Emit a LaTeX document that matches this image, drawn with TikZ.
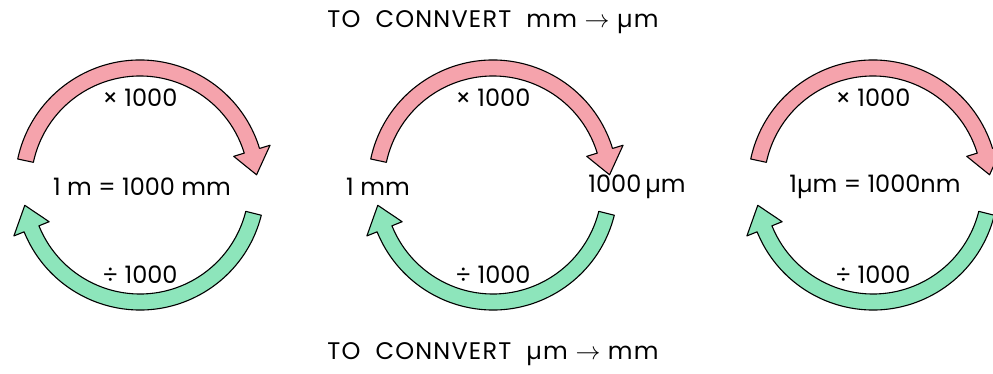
\documentclass[tikz,border=0pt]{standalone}
\usepackage{fontspec}
\setmainfont{Poppins}
\definecolor{pinkfill}{RGB}{245,163,172}
\definecolor{greenfill}{RGB}{141,229,187}
\begin{document}
\begin{tikzpicture}[x=1pt,y=1pt,
  pinkarrow/.style={draw=black,line width=1.1pt,fill=pinkfill,line join=round},
  greenarrow/.style={draw=black,line width=1.1pt,fill=greenfill,line join=round},
  lbl/.style={font=\fontsize{24}{28}\selectfont,inner sep=0pt},
  ttl/.style={font=\fontsize{24}{28}\selectfont\addfontfeature{LetterSpace=5},inner sep=0pt}]
\useasboundingbox (0,0) rectangle (993,374);
\clip (0,0) rectangle (993,374);
\foreach \cx/\nm in {140/a,493/b,873/c}{
  \begin{scope}[shift={(\cx,189)}]
    \draw[pinkarrow] (168:125) arc[start angle=168,end angle=17,radius=125]
      -- (17:136) -- (5:117) -- (17:98) -- (17:109)
      arc[start angle=17,end angle=168,radius=109] -- cycle;
    \draw[greenarrow] (-14:125) arc[start angle=-14,end angle=-158,radius=125]
      -- (-158:136) -- (-170:117) -- (-158:98) -- (-158:109)
      arc[start angle=-158,end angle=-14,radius=109] -- cycle;
    \node[lbl] (times\nm) at (0,87) {× 1000};
    \node[lbl] (div\nm) at (0,-90) {÷ 1000};
  \end{scope}
}
\node[lbl] (eqa) at (142,187) {1 m = 1000 mm};
\node[lbl] (mm) at (378,187) {1 mm};
\node[lbl] (um) at (637,187) {1000\,µm};
\node[lbl] (eqc) at (875,187) {1µm = 1000nm};
\node[ttl] (top) at (493,352) {TO\ \ CONNVERT\ \ mm $\rightarrow$ µm};
\node[ttl] (bot) at (493,20) {TO\ \ CONNVERT\ \ µm $\rightarrow$ mm};
\end{tikzpicture}
\end{document}
